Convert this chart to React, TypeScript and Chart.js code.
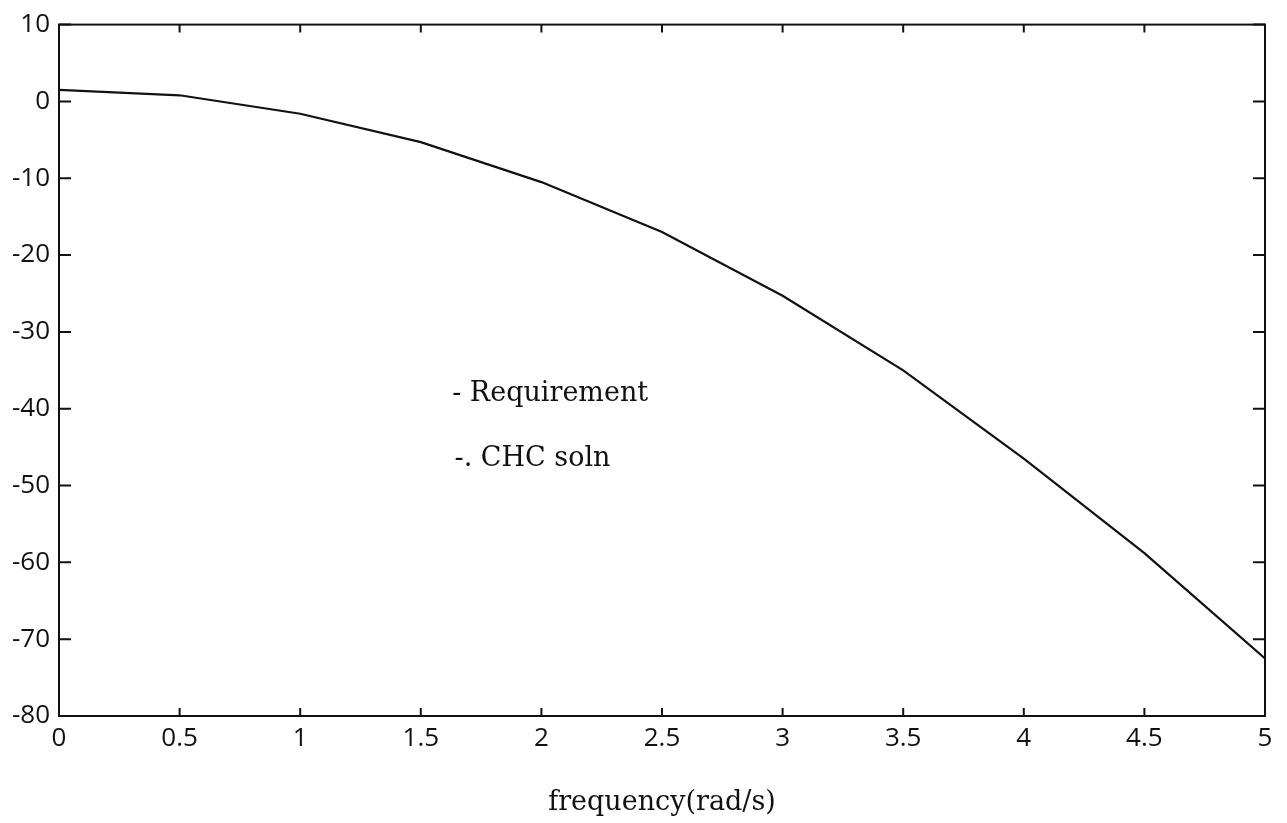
import React, { useEffect, useRef } from "react";
import { Chart, registerables } from "chart.js";

Chart.register(...registerables);

const freq = [0, 0.5, 1, 1.5, 2, 2.5, 3, 3.5, 4, 4.5, 5];
const magnitude = [1.5, 0.8, -1.6, -5.3, -10.5, -17, -25.3, -35, -46.5, -58.8, -72.5];

const xTicks = [0, 0.5, 1, 1.5, 2, 2.5, 3, 3.5, 4, 4.5, 5];
const yTicks = [10, 0, -10, -20, -30, -40, -50, -60, -70, -80];

const xLabel = "frequency(rad/s)";
const notes = [
  { text: "- Requirement", x: 1.63, y: -39 },
  { text: "-. CHC soln", x: 1.64, y: -47.4 },
];

const TICK_FONT = { family: "'Open Sans', sans-serif", size: 26 };
const TEXT_FONT = "27px 'DejaVu Serif', serif";

const framePlugin = {
  id: "frame",
  afterDraw(chart: any) {
    const { ctx, chartArea } = chart;
    const xs = chart.scales.x;
    const ys = chart.scales.y;
    ctx.save();
    ctx.strokeStyle = "#111";
    ctx.lineWidth = 2;
    ctx.strokeRect(chartArea.left, chartArea.top, chartArea.right - chartArea.left, chartArea.bottom - chartArea.top);
    ctx.lineWidth = 2;
    ctx.beginPath();
    for (const v of xTicks) {
      const px = xs.getPixelForValue(v);
      ctx.moveTo(px, chartArea.bottom);
      ctx.lineTo(px, chartArea.bottom - 8);
      ctx.moveTo(px, chartArea.top);
      ctx.lineTo(px, chartArea.top + 8);
    }
    for (const v of yTicks) {
      const py = ys.getPixelForValue(v);
      ctx.moveTo(chartArea.left, py);
      ctx.lineTo(chartArea.left + 12, py);
      ctx.moveTo(chartArea.right, py);
      ctx.lineTo(chartArea.right - 12, py);
    }
    ctx.stroke();
    ctx.fillStyle = "#111";
    ctx.font = TEXT_FONT;
    ctx.textAlign = "left";
    ctx.textBaseline = "alphabetic";
    for (const n of notes) {
      ctx.fillText(n.text, xs.getPixelForValue(n.x), ys.getPixelForValue(n.y));
    }
    ctx.restore();
  },
};

export default function App() {
  const ref = useRef<HTMLCanvasElement | null>(null);
  useEffect(() => {
    if (!ref.current) return;
    const chart = new Chart(ref.current, {
      type: "line",
      data: {
        datasets: [
          {
            label: "Requirement",
            data: freq.map((f, i) => ({ x: f, y: magnitude[i] })),
            borderColor: "#111",
            borderWidth: 2.2,
            pointRadius: 0,
            tension: 0,
            fill: false,
          },
        ],
      },
      options: {
        animation: false,
        responsive: true,
        maintainAspectRatio: false,
        layout: { padding: { top: 18, right: 22, left: 0, bottom: 0 } },
        plugins: { legend: { display: false }, tooltip: { enabled: false } },
        scales: {
          x: {
            type: "linear",
            min: 0,
            max: 5,
            afterFit: (s: any) => {
              s.height = 107;
            },
            afterBuildTicks: (s: any) => {
              s.ticks = xTicks.map((v) => ({ value: v }));
            },
            grid: { display: false, drawTicks: false },
            border: { display: false },
            ticks: {
              color: "#111",
              font: TICK_FONT,
              padding: 7,
              maxRotation: 0,
              autoSkip: false,
              callback: (v: any) => String(v),
            },
            title: {
              display: true,
              text: xLabel,
              color: "#111",
              font: { family: "'DejaVu Serif', serif", size: 27 },
              padding: { top: 0, bottom: 4 },
            },
          },
          y: {
            type: "linear",
            min: -80,
            max: 10,
            afterFit: (s: any) => {
              s.width = 59;
            },
            afterBuildTicks: (s: any) => {
              s.ticks = yTicks.map((v) => ({ value: v }));
            },
            grid: { display: false, drawTicks: false },
            border: { display: false },
            ticks: {
              color: "#111",
              font: TICK_FONT,
              padding: 9,
              autoSkip: false,
              callback: (v: any) => String(v),
            },
          },
        },
      },
      plugins: [framePlugin],
    });
    return () => chart.destroy();
  }, []);
  return (
    <div style={{ position: "fixed", left: 0, top: 0, width: 1287, height: 823, background: "#fff" }}>
      <canvas ref={ref} />
    </div>
  );
}
